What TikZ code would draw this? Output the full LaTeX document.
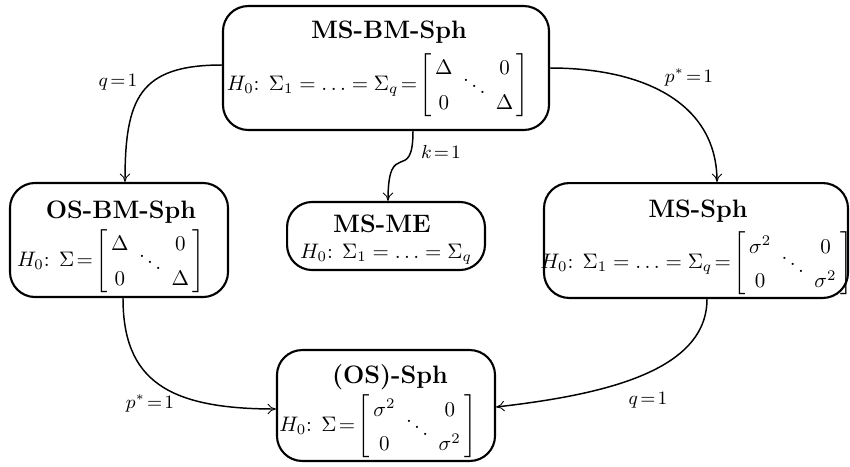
\documentclass[tikz,border=0pt]{standalone}
\usetikzlibrary{arrows.meta}
\newcommand\dmatx[2]{\Biggl[\renewcommand{\arraystretch}{1.38}\begin{array}{@{\,}c@{\;\,}c@{\;\,}c@{\,}}#1&&0\\0&\smash{\raisebox{1.5ex}{$\ddots$}}&#2\end{array}\Biggr]}
\tikzset{
  box/.style={draw, line width=1pt, rounded corners=12pt, inner sep=0pt},
  ttl/.style={font=\large\bfseries, inner sep=0pt, anchor=base},
  frm/.style={inner sep=0pt},
  conn/.style={line width=0.7pt, -{To[length=4pt,width=5pt,line width=0.4pt]}},
  lab/.style={font=\small, inner sep=1pt}
}
\begin{document}
\begin{tikzpicture}[x=0.476pt,y=-0.476pt]
\useasboundingbox (0,0) rectangle (850,466);
% boxes
\node[box,minimum width=155.2pt,minimum height=59pt] (msbm) at (386,68) {};
\node[box,minimum width=103.8pt,minimum height=54.3pt] (osbm) at (119,240) {};
\node[box,minimum width=94.2pt,minimum height=32.4pt] (msme) at (386,236) {};
\node[box,minimum width=144.7pt,minimum height=54.7pt] (mssph) at (696,240.5) {};
\node[box,minimum width=103.8pt,minimum height=52.8pt] (ossph) at (386,405.5) {};
% titles
\node[ttl] (msbm-t) at (389,38) {MS-BM-Sph};
\node[ttl] (osbm-t) at (121,218) {OS-BM-Sph};
\node[ttl] (msme-t) at (382,232) {MS-ME};
\node[ttl] (mssph-t) at (698,217) {MS-Sph};
\node[ttl] (ossph-t) at (390,383) {(OS)-Sph};
% formulas
\node[frm] (msbm-f) at (378,85) {$H_0$: $\Sigma_1 = \ldots = \Sigma_q \!=\! \dmatx{\Delta}{\Delta}$};
\node[frm] (osbm-f) at (111,261) {$H_0$: $\Sigma\!=\!\dmatx{\Delta}{\Delta}$};
\node[frm,anchor=base] (msme-f) at (386,258) {$H_0$: $\Sigma_1 = \ldots = \Sigma_q$};
\node[frm] (mssph-f) at (696.5,263.5) {$H_0$: $\Sigma_1 = \ldots = \Sigma_q \!=\! \dmatx{\sigma^2}{\sigma^2}$};
\node[frm] (ossph-f) at (378,426.5) {$H_0$: $\Sigma\!=\!\dmatx{\sigma^2}{\sigma^2}$};

\draw[conn] ([shift={(0,-3)}]msbm.west) .. controls +(-83,0) and +(0,-83) .. ([shift={(6,0)}]osbm.north);
\draw[conn] (msbm.east) .. controls +(95,0) and +(0,-78) .. ([shift={(21,0)}]mssph.north);
\draw[conn] ([shift={(27,0)}]msbm.south) .. controls +(0,55) and +(0,-65) .. ([shift={(2,0)}]msme.north);
\draw[conn] ([shift={(4,0)}]osbm.south) .. controls +(0,83) and +(-107,0) .. ([shift={(0,3.5)}]ossph.west);
\draw[conn] ([shift={(11,0)}]mssph.south) .. controls +(0,73) and +(105,-12) .. ([shift={(0,1.5)}]ossph.east);

\node[lab] (l1) at (118,82) {$q\!=\!1$};
\node[lab] (l2) at (689,77) {$p^*\!=\!1$};
\node[lab] (l3) at (441,152) {$k\!=\!1$};
\node[lab] (l4) at (150,403) {$p^*\!=\!1$};
\node[lab] (l5) at (648,400) {$q\!=\!1$};
\end{tikzpicture}
\end{document}
